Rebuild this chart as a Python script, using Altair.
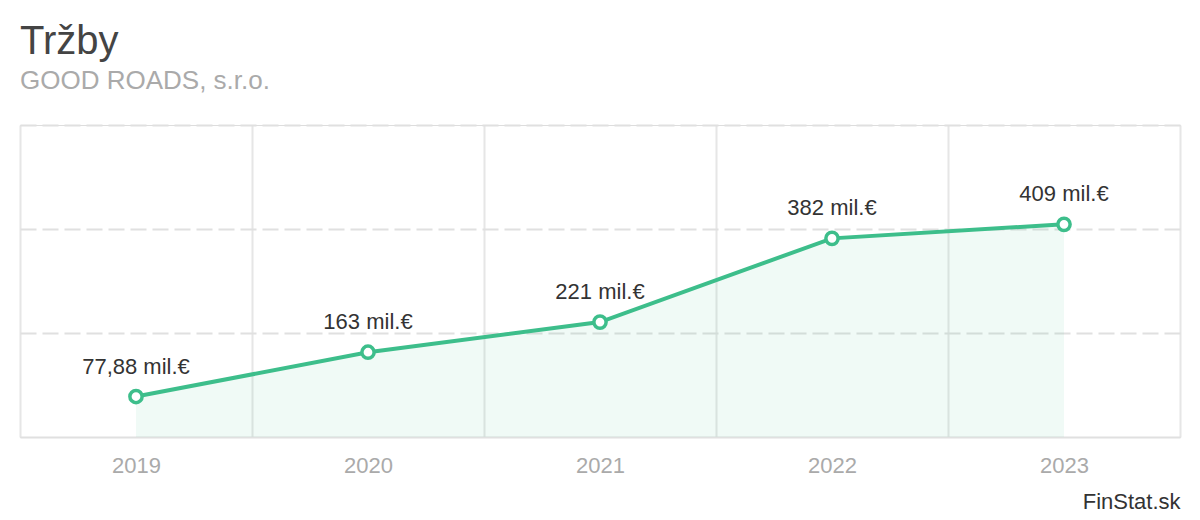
import altair as alt
import pandas as pd

years = ["2019", "2020", "2021", "2022", "2023"]
values = [77.88, 163, 221, 382, 409]
labels = ["77,88 mil.€", "163 mil.€", "221 mil.€", "382 mil.€", "409 mil.€"]

df = pd.DataFrame({"year": years, "value": values, "label": labels})

GREEN = "#3dbe8b"
FONT = "Liberation Sans"

x_enc = alt.X(
    "year:O",
    scale=alt.Scale(type="band", paddingInner=0, paddingOuter=0),
    axis=alt.Axis(
        title="FinStat.sk",
        titleX=1160,
        titleY=71,
        titleAlign="right",
        titleAnchor="end",
        titleBaseline="alphabetic",
        titleFontSize=22,
        titleColor="#333333",
        titleFontWeight="normal",
        titleFont=FONT,
        labelAngle=0,
        labelFontSize=22,
        labelColor="#aaaaaa",
        labelFont=FONT,
        labelPadding=18,
        ticks=False,
        domain=True,
        domainColor="#e0e0e0",
        domainWidth=2,
        grid=True,
        gridColor="#e6e6e6",
        gridWidth=2,
        tickBand="extent",
    ),
)
y_enc = alt.Y(
    "value:Q",
    scale=alt.Scale(domain=[0, 600]),
    axis=alt.Axis(
        values=[200, 400, 600],
        labels=False,
        ticks=False,
        domain=False,
        title=None,
        grid=True,
        gridDash=[16, 6],
        gridColor="#e0e0e0",
        gridWidth=2,
    ),
)

base = alt.Chart(df).encode(x=x_enc, y=y_enc)

area = base.mark_area(color=GREEN, opacity=0.08)
line = base.mark_line(color=GREEN, strokeWidth=4)
points = base.mark_point(
    shape="circle", filled=True, fill="white", stroke=GREEN, strokeWidth=3.5, size=150, opacity=1
)
text = base.mark_text(
    dy=-23, baseline="alphabetic", align="center", fontSize=22, color="#333333", font=FONT
).encode(text="label:N")

chart = (
    alt.layer(area, line, points, text)
    .properties(
        width=1160,
        height=312,
        padding={"left": 12, "top": 117, "right": 12, "bottom": 75},
        autosize=alt.AutoSizeParams(type="none"),
        title=alt.TitleParams(
            text="Tržby",
            subtitle="GOOD ROADS, s.r.o.",
            anchor="start",
            frame="group",
            font=FONT,
            fontSize=40,
            fontWeight="normal",
            color="#444444",
            subtitleFont=FONT,
            subtitleFontSize=26,
            subtitleColor="#aaaaaa",
            subtitlePadding=6,
            offset=31,
        ),
    )
    .configure_view(stroke=None)
    .configure(font=FONT)
)

chart.save("out.html", embed_options={"renderer": "svg", "actions": False})
